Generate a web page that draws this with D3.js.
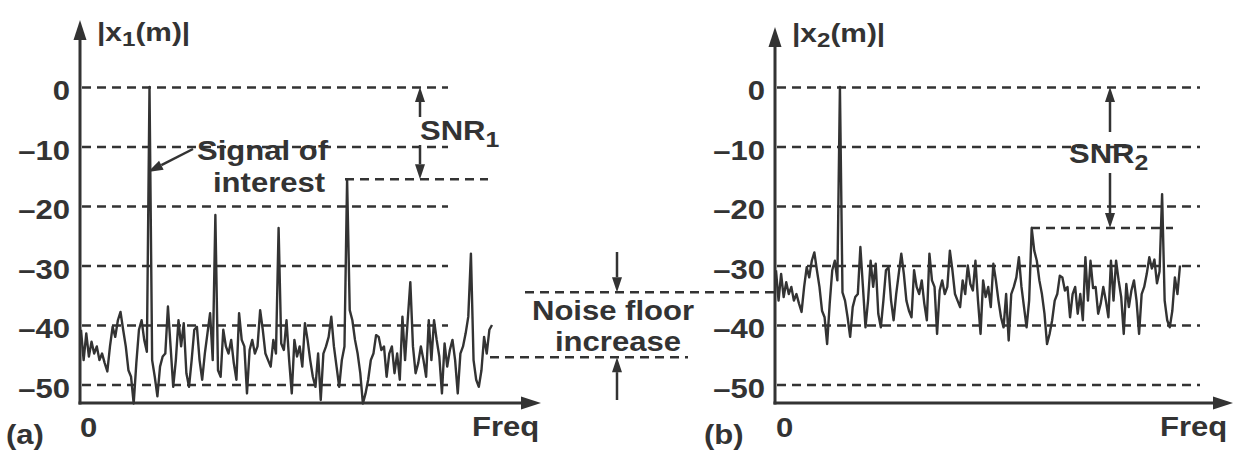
<!DOCTYPE html>
<html>
<head>
<meta charset="utf-8">
<script src="https://cdn.jsdelivr.net/npm/d3@7"></script>
<style>
body { margin: 0; background: #fff; }
text { font-family: "Liberation Sans", Arial, sans-serif; font-weight: bold; fill: #333; }
</style>
</head>
<body>
<svg id="chart" width="1234" height="455"></svg>
<script>
"use strict";

// y axis ticks (dB)
var yTicks = [0, -10, -20, -30, -40, -50];
var tickLabels = ["0", "–10", "–20", "–30", "–40", "–50"];

// (a) spectrum |x1(m)| in dB, evenly spaced bins
var spectrum1 = [-40.8, -45.9, -41.4, -45.3, -42.8, -44.8, -43.6, -45.9, -44.8, -46.4,
	-47.8, -43.6, -40.3, -42.0, -39.2, -37.8, -40.8, -43.6, -47.6, -48.7,
	-53.2, -46.4, -40.8, -39.2, -42.5, -44.5, 0, -45.9, -48.7, -52.0,
	-47.0, -45.3, -44.8, -36.9, -43.6, -50.4, -45.9, -39.2, -43.6, -39.7,
	-48.1, -50.4, -45.9, -40.8, -40.3, -45.9, -49.2, -44.8, -41.4, -38.0,
	-45.9, -21.5, -47.6, -48.7, -40.8, -43.6, -44.8, -42.5, -46.4, -49.2,
	-38.0, -42.5, -43.6, -51.5, -44.2, -42.5, -44.8, -43.6, -37.5, -40.8,
	-44.8, -45.9, -47.0, -42.5, -44.8, -23.7, -43.1, -44.2, -39.2, -45.9,
	-51.5, -42.5, -45.3, -43.6, -47.0, -39.7, -42.5, -45.9, -48.7, -50.4,
	-44.8, -52.6, -44.8, -43.6, -42.0, -38.6, -43.6, -47.0, -50.4, -45.9,
	-43.6, -15.5, -37.5, -39.2, -42.5, -44.8, -48.1, -53.2, -51.5, -49.2,
	-45.9, -44.8, -41.7, -42.0, -44.2, -43.6, -48.7, -44.8, -43.6, -48.1,
	-44.8, -49.2, -38.6, -45.9, -39.2, -32.8, -43.6, -48.1, -46.4, -43.6,
	-45.9, -48.7, -39.2, -45.9, -39.2, -42.5, -45.3, -51.5, -43.1, -47.0,
	-44.2, -42.5, -45.9, -51.5, -44.8, -43.6, -41.4, -38.6, -28.0, -45.9,
	-49.2, -50.4, -47.6, -42.0, -44.8, -40.8, -40.0];

// (b) spectrum |x2(m)| in dB
var spectrum2 = [-30.8, -35.9, -31.4, -35.3, -32.8, -34.8, -33.6, -35.9, -34.8, -36.4,
	-37.8, -33.6, -30.3, -32.0, -29.2, -27.8, -30.8, -33.6, -37.6, -38.7,
	-43.2, -36.4, -30.8, -29.2, -32.5, 0, -34.5, -35.9, -38.7, -42.0,
	-37.0, -35.3, -34.8, -26.9, -33.6, -40.4, -35.9, -29.2, -33.6, -29.7,
	-38.1, -40.4, -35.9, -30.8, -30.3, -35.9, -39.2, -34.8, -31.4, -28.0,
	-31.4, -35.9, -37.6, -38.7, -30.8, -33.6, -34.8, -32.5, -36.4, -39.2,
	-28.0, -32.5, -33.6, -41.5, -34.2, -32.5, -34.8, -33.6, -27.5, -30.8,
	-34.8, -35.9, -37.0, -32.5, -34.8, -30.0, -33.1, -34.2, -29.2, -35.9,
	-41.5, -32.5, -35.3, -33.6, -37.0, -29.7, -32.5, -35.9, -38.7, -40.4,
	-34.8, -42.6, -34.8, -33.6, -32.0, -28.6, -33.6, -37.0, -40.4, -35.9,
	-23.7, -27.5, -29.2, -32.5, -34.8, -38.1, -43.2, -41.5, -39.2, -35.9,
	-34.8, -31.7, -32.0, -34.2, -33.6, -38.7, -34.8, -33.6, -38.1, -34.8,
	-39.2, -28.6, -35.9, -29.2, -33.8, -33.6, -38.1, -36.4, -33.6, -35.9,
	-38.7, -29.2, -35.9, -29.2, -32.5, -35.3, -41.5, -33.1, -37.0, -34.2,
	-32.5, -35.9, -41.5, -34.8, -33.6, -31.4, -28.6, -30.5, -29.0, -33.0,
	-31.0, -18.0, -35.9, -39.2, -40.4, -37.6, -32.0, -34.8, -30.0];

// annotation levels (dB)
var snr1Level = -15.5, snr2Level = -23.7;
var floor1Level = -45.4, floor2Level = -34.5;

var svg = d3.select("#chart");
var ink = "#333";

var y = d3.scaleLinear().domain([0, -50]).range([87, 384.5]);
var x1 = d3.scaleLinear().domain([0, spectrum1.length - 1]).range([81, 492]);
var x2 = d3.scaleLinear().domain([0, spectrum2.length - 1]).range([776, 1180]);

// Bold text, slightly stretched horizontally like the original artwork
function label(parent, x, yy, txt, sub, size) {
	size = size || 27;
	var t = parent.append("text")
		.attr("transform", "translate(" + x + "," + yy + ") scale(1.15,1)")
		.style("font-size", size + "px");
	t.append("tspan").text(txt);
	if (sub) {
		t.append("tspan").attr("dy", 7).style("font-size", (size * 0.8) + "px").text(sub);
	}
	return t;
}

function arrow(parent, xa, ya, xb, yb, len, wid, sw) {
	len = len || 16; wid = wid || 11; sw = sw || 2.5;
	var dx = xb - xa, dy = yb - ya, d = Math.sqrt(dx * dx + dy * dy);
	var ux = dx / d, uy = dy / d;
	var bx = xb - ux * len, by = yb - uy * len;
	parent.append("line").attr("x1", xa).attr("y1", ya).attr("x2", bx).attr("y2", by)
		.attr("stroke", ink).attr("stroke-width", sw);
	parent.append("path")
		.attr("d", "M" + xb + "," + yb + "L" + (bx - uy * wid / 2) + "," + (by + ux * wid / 2) +
			"L" + (bx + uy * wid / 2) + "," + (by - ux * wid / 2) + "Z")
		.attr("fill", ink);
}

function dashed(parent, xa, xb, level) {
	parent.append("line").attr("x1", xa).attr("x2", xb).attr("y1", y(level)).attr("y2", y(level))
		.attr("stroke", ink).attr("stroke-width", 2.5).attr("stroke-dasharray", "9,6");
}

function drawPanel(g, xs, axisX, gridEnd, data, tipY, axisEnd) {
	// grid lines
	var grid = g.append("g").attr("transform", "translate(" + (axisX + 2) + ",0)")
		.call(d3.axisRight(y).tickValues(yTicks).tickSize(gridEnd - axisX - 2).tickFormat(""));
	grid.select(".domain").remove();
	grid.selectAll("line").attr("stroke", ink).attr("stroke-width", 2.5).attr("stroke-dasharray", "9,6");

	// tick labels
	var lab = g.append("g").attr("transform", "translate(" + axisX + ",0)")
		.call(d3.axisLeft(y).tickValues(yTicks).tickSize(0).tickFormat(function(d, i) { return tickLabels[i]; }));
	lab.select(".domain").remove();
	lab.selectAll("text").attr("x", 0).attr("dy", "0.48em")
		.attr("transform", "translate(-10,0) scale(1.15,1)")
		.attr("fill", ink).style("font-size", "27px").style("font-family", null);

	// spectrum trace
	g.append("path").datum(data)
		.attr("d", d3.line().x(function(d, i) { return xs(i); }).y(function(d) { return y(d); }))
		.attr("fill", "none").attr("stroke", ink).attr("stroke-width", 2.4).attr("stroke-linejoin", "round");

	// axes
	arrow(g, axisX, 404.5, axisX, tipY, 20, 13, 3);
	arrow(g, axisX - 1.5, 403, axisEnd, 403, 20, 13, 3);
}

var pa = svg.append("g"), pb = svg.append("g");
drawPanel(pa, x1, 80, 448, spectrum1, 20, 541);
drawPanel(pb, x2, 775, 1200, spectrum2, 27, 1233);

// (a) annotations
dashed(pa, 345, 488, snr1Level);
arrow(pa, 420, 117, 420, y(0), 15, 10);
arrow(pa, 420, 145, 420, y(snr1Level), 15, 10);
label(pa, 420, 140, "SNR", "1");
label(pa, 197, 160, "Signal of");
label(pa, 213, 192, "interest");
arrow(pa, 193, 149, 148, 172, 15, 10);
label(pa, 97, 41, "|x", null, 26).append("tspan").attr("dy", 5).style("font-size", "21px").text("1")
	.select(function() { return this.parentNode; }).append("tspan").attr("dy", -5).style("font-size", "26px").text("(m)|");
label(pa, 80, 437, "0");
label(pa, 472, 436, "Freq");
label(pa, 6, 444, "(a)");

// noise floor annotation
dashed(svg, 490, 688, floor1Level);
dashed(svg, 525, 776, floor2Level);
arrow(svg, 617, 252, 617, y(floor2Level), 15, 10);
arrow(svg, 617, 400, 617, y(floor1Level), 15, 10);
label(svg, 532, 320, "Noise floor");
label(svg, 555, 351, "increase");

// (b) annotations
dashed(pb, 1031, 1173, snr2Level);
arrow(pb, 1110, 132, 1110, y(0), 15, 10);
arrow(pb, 1110, 173, 1110, y(snr2Level), 15, 10);
label(pb, 1069, 163, "SNR", "2");
label(pb, 792, 42, "|x", null, 26).append("tspan").attr("dy", 5).style("font-size", "21px").text("2")
	.select(function() { return this.parentNode; }).append("tspan").attr("dy", -5).style("font-size", "26px").text("(m)|");
label(pb, 776, 437, "0");
label(pb, 1160, 436, "Freq");
label(pb, 704, 444, "(b)");
</script>
</body>
</html>
